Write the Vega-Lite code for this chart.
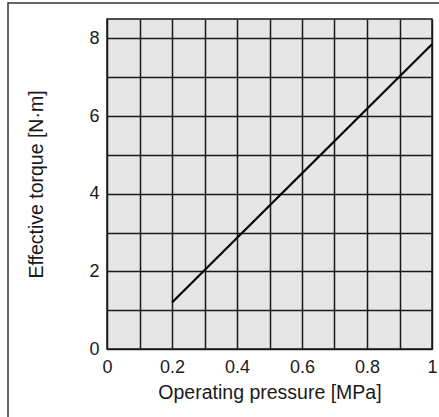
{
  "$schema": "https://vega.github.io/schema/vega-lite/v6.json",
  "autosize": "none",
  "width": 325,
  "height": 330,
  "padding": {"left": 107, "top": 19, "right": 7, "bottom": 68},
  "background": "white",
  "config": {
    "font": "Liberation Sans",
    "view": {"fill": "#e6e6e6", "stroke": "#1a1a1a", "strokeWidth": 1.5},
    "axis": {
      "labelFont": "Liberation Sans",
      "titleFont": "Liberation Sans",
      "labelFontSize": 18,
      "titleFontSize": 19.5,
      "titleFontWeight": "normal",
      "labelColor": "#1a1a1a",
      "titleColor": "#1a1a1a",
      "domain": false,
      "ticks": false,
      "grid": true,
      "gridColor": "#1a1a1a",
      "gridWidth": 1.5,
      "gridOpacity": 1
    }
  },
  "datasets": {
    "curve": [
      {"pressure": 0.2, "torque": 1.2},
      {"pressure": 1.0, "torque": 7.85}
    ],
    "frame": [{"id": "frame"}]
  },
  "layer": [
    {
      "data": {"name": "curve"},
      "mark": {"type": "line", "color": "#000000", "strokeWidth": 2.2},
      "encoding": {
        "x": {
          "field": "pressure",
          "type": "quantitative",
          "scale": {"domain": [0, 1], "nice": false, "zero": false},
          "axis": {
            "title": "Operating pressure [MPa]",
            "values": [0, 0.1, 0.2, 0.3, 0.4, 0.5, 0.6, 0.7, 0.8, 0.9, 1],
            "labelExpr": "round(datum.value*10) % 2 == 0 ? format(datum.value, '~g') : ''",
            "labelPadding": 9,
            "titlePadding": 7,
            "labelFlush": false,
            "labelOverlap": false
          }
        },
        "y": {
          "field": "torque",
          "type": "quantitative",
          "scale": {"domain": [0, 8.5], "nice": false, "zero": false},
          "axis": {
            "title": "Effective torque [N·m]",
            "values": [0, 1, 2, 3, 4, 5, 6, 7, 8],
            "labelExpr": "datum.value % 2 == 0 ? format(datum.value, '~g') : ''",
            "labelPadding": 8,
            "titlePadding": 42,
            "labelFlush": false,
            "labelOverlap": false
          }
        }
      }
    },
    {
      "data": {"name": "frame"},
      "mark": {"type": "rect", "fill": null, "stroke": "#333333", "strokeWidth": 1.5, "clip": false},
      "encoding": {
        "x": {
          "datum": -0.3046,
          "type": "quantitative",
          "axis": {
            "title": "Operating pressure [MPa]",
            "values": [0, 0.1, 0.2, 0.3, 0.4, 0.5, 0.6, 0.7, 0.8, 0.9, 1],
            "labelExpr": "round(datum.value*10) % 2 == 0 ? format(datum.value, '~g') : ''",
            "labelPadding": 9,
            "titlePadding": 7,
            "labelFlush": false,
            "labelOverlap": false
          }
        },
        "x2": {"datum": 1.2},
        "y": {
          "datum": 8.913,
          "type": "quantitative",
          "axis": {
            "title": "Effective torque [N·m]",
            "values": [0, 1, 2, 3, 4, 5, 6, 7, 8],
            "labelExpr": "datum.value % 2 == 0 ? format(datum.value, '~g') : ''",
            "labelPadding": 8,
            "titlePadding": 42,
            "labelFlush": false,
            "labelOverlap": false
          }
        },
        "y2": {"datum": -2.5}
      }
    }
  ]
}
